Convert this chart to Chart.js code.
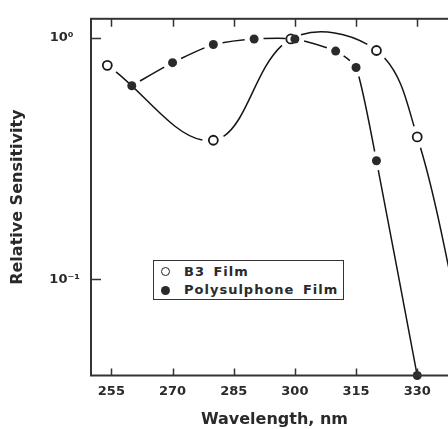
<!DOCTYPE html>
<html><head><meta charset="utf-8">
<script src="https://cdn.jsdelivr.net/npm/chart.js@4.4.0/dist/chart.umd.min.js"></script>
<style>
html,body{margin:0;padding:0;background:#fff;overflow:hidden;width:448px;height:429px;}
#wrap{position:absolute;left:0;top:0;width:472px;height:429px;}
#legend{position:absolute;left:153px;top:260px;width:189px;height:38px;border:1.5px solid #333;background:#fff;
  font-family:"DejaVu Sans";font-weight:bold;font-size:13px;color:#2a2a2a;letter-spacing:1px;word-spacing:3px;}
.sym{position:absolute;width:9px;height:9px;border-radius:50%;box-sizing:border-box;}
.open{border:1.8px solid #222;background:#fff;}
.fill{background:#2a2a2a;}
.lbl{position:absolute;left:30px;line-height:16px;white-space:nowrap;}
</style></head>
<body>
<div id="wrap"><canvas id="c"></canvas></div>
<div id="legend">
  <span class="sym open" style="left:6.5px;top:6px"></span><span class="lbl" id="l0" style="top:3px"></span>
  <span class="sym fill" style="left:6.5px;top:24.5px"></span><span class="lbl" id="l1" style="top:21px"></span>
</div>
<script>
// ---- data ----
const seriesNames = ['B3 Film', 'Polysulphone Film'];
const b3Wavelengths = [254, 280, 299, 320, 330, 340];
const b3Values      = [0.77, 0.377, 0.99, 0.887, 0.389, 0.075];
const polyWavelengths = [260, 270, 280, 290, 300, 310, 315, 320, 330];
const polyValues      = [0.634, 0.79, 0.939, 0.99, 0.99, 0.882, 0.754, 0.31, 0.04];
const xTicks = [255, 270, 285, 300, 315, 330];
const yTicks = [0.1, 1];
const yTickLabels = ['10\u207B\u00B9', '10\u2070\u2002'];
const xTitle = 'Wavelength, nm';
const yTitle = 'Relative Sensitivity';

document.getElementById('l0').textContent = seriesNames[0];
document.getElementById('l1').textContent = seriesNames[1];

const pts = (xs, ys) => xs.map((x, i) => ({x, y: ys[i]}));
const FONT = 'DejaVu Sans';

// ---- line style: each segment leaves a small white gap around the markers ----
function segLength(p0, p1) {
  const hasCp = [p0.cp2x, p0.cp2y, p1.cp1x, p1.cp1y].every(v => typeof v === 'number' && isFinite(v));
  if (!hasCp) return Math.hypot(p1.x - p0.x, p1.y - p0.y);
  let len = 0, px = p0.x, py = p0.y;
  const N = 32;
  for (let k = 1; k <= N; k++) {
    const t = k / N, u = 1 - t;
    const x = u*u*u*p0.x + 3*u*u*t*p0.cp2x + 3*u*t*t*p1.cp1x + t*t*t*p1.x;
    const y = u*u*u*p0.y + 3*u*u*t*p0.cp2y + 3*u*t*t*p1.cp1y + t*t*t*p1.y;
    len += Math.hypot(x - px, y - py); px = x; py = y;
  }
  return len;
}
function gappedSegment(gapFor) {
  const calc = c => {
    const L = segLength(c.p0, c.p1);
    const g0 = gapFor(c.p0DataIndex), g1 = gapFor(c.p1DataIndex);
    const d = Math.max(L - g0 - g1, 0.01);
    return {dash: [d, g0 + g1 + 2000], offset: -g0};
  };
  return {borderDash: c => calc(c).dash, borderDashOffset: c => calc(c).offset};
}
const polyGap = i => (i === polyWavelengths.length - 1 ? 4 : 9.5);
const b3Gap = () => 11;

const frame = {
  id: 'frame',
  afterDraw(chart) {
    const {ctx, chartArea: a, scales: {x, y}} = chart;
    ctx.save();
    ctx.strokeStyle = '#333';
    ctx.lineWidth = 2;
    ctx.strokeRect(a.left, a.top, a.right - a.left, a.bottom - a.top);
    ctx.lineWidth = 1.5;
    ctx.beginPath();
    xTicks.forEach(v => {
      const px = Math.round(x.getPixelForValue(v)) + 0.5;
      ctx.moveTo(px, a.bottom); ctx.lineTo(px, a.bottom - 7);
      ctx.moveTo(px, a.top); ctx.lineTo(px, a.top + 8);
    });
    yTicks.forEach(v => {
      const py = Math.round(y.getPixelForValue(v)) + 0.5;
      ctx.moveTo(a.left, py); ctx.lineTo(a.left + 10, py);
      ctx.moveTo(a.right, py); ctx.lineTo(a.right - 10, py);
    });
    ctx.stroke();
    ctx.restore();
  }
};

new Chart(document.getElementById('c'), {
  type: 'line',
  data: {
    datasets: [
      {label: seriesNames[1] + ' line', data: pts(polyWavelengths, polyValues), borderColor: '#151515', borderWidth: 1.5,
       pointRadius: 0, tension: 0.2, order: 4, segment: gappedSegment(polyGap)},
      {label: seriesNames[0] + ' line', data: pts(b3Wavelengths, b3Values), borderColor: '#151515', borderWidth: 1.5,
       pointRadius: 0, tension: 0.38, order: 3, segment: gappedSegment(b3Gap)},
      {label: seriesNames[0], data: pts(b3Wavelengths, b3Values), showLine: false, pointRadius: 4.5, pointBackgroundColor: '#fff',
       pointBorderColor: '#1a1a1a', pointBorderWidth: 1.8, order: 2, clip: false},
      {label: seriesNames[1], data: pts(polyWavelengths, polyValues), showLine: false, pointRadius: 4.5, pointBackgroundColor: '#2a2a2a',
       pointBorderColor: '#2a2a2a', pointBorderWidth: 0, order: 1, clip: false}
    ]
  },
  options: {
    responsive: true,
    maintainAspectRatio: false,
    animation: false,
    events: [],
    layout: {padding: {top: 15, right: 14, left: 0, bottom: 0}},
    plugins: {legend: {display: false}, tooltip: {enabled: false}},
    scales: {
      x: {
        type: 'linear', min: 250, max: 340,
        grid: {display: false, drawTicks: false},
        border: {display: false},
        afterFit: s => { s.height = 53.5; },
        afterBuildTicks: s => { s.ticks = xTicks.map(v => ({value: v})); },
        ticks: {autoSkip: false, maxRotation: 0, padding: 8, color: '#2a2a2a',
                font: {family: FONT, size: 13, weight: 'bold'}, callback: v => String(v)},
        title: {display: true, text: xTitle, color: '#2a2a2a', padding: {top: 0, bottom: 0},
                font: {family: FONT, size: 16, weight: 'bold'}}
      },
      y: {
        type: 'logarithmic', min: 0.04, max: 1.2,
        grid: {display: false, drawTicks: false},
        border: {display: false},
        afterFit: s => { s.width = 91; },
        afterBuildTicks: s => { s.ticks = yTicks.map(v => ({value: v})); },
        ticks: {autoSkip: false, padding: 11, color: '#2a2a2a', crossAlign: 'near',
                font: {family: FONT, size: 13, weight: 'bold'},
                callback: (v) => { const i = yTicks.findIndex(t => Math.abs(t - v) < 1e-9); return i >= 0 ? yTickLabels[i] : ''; }},
        title: {display: true, text: yTitle, color: '#2a2a2a', padding: {top: 8, bottom: 0},
                font: {family: FONT, size: 16, weight: 'bold'}}
      }
    }
  },
  plugins: [frame]
});
</script>
</body></html>
